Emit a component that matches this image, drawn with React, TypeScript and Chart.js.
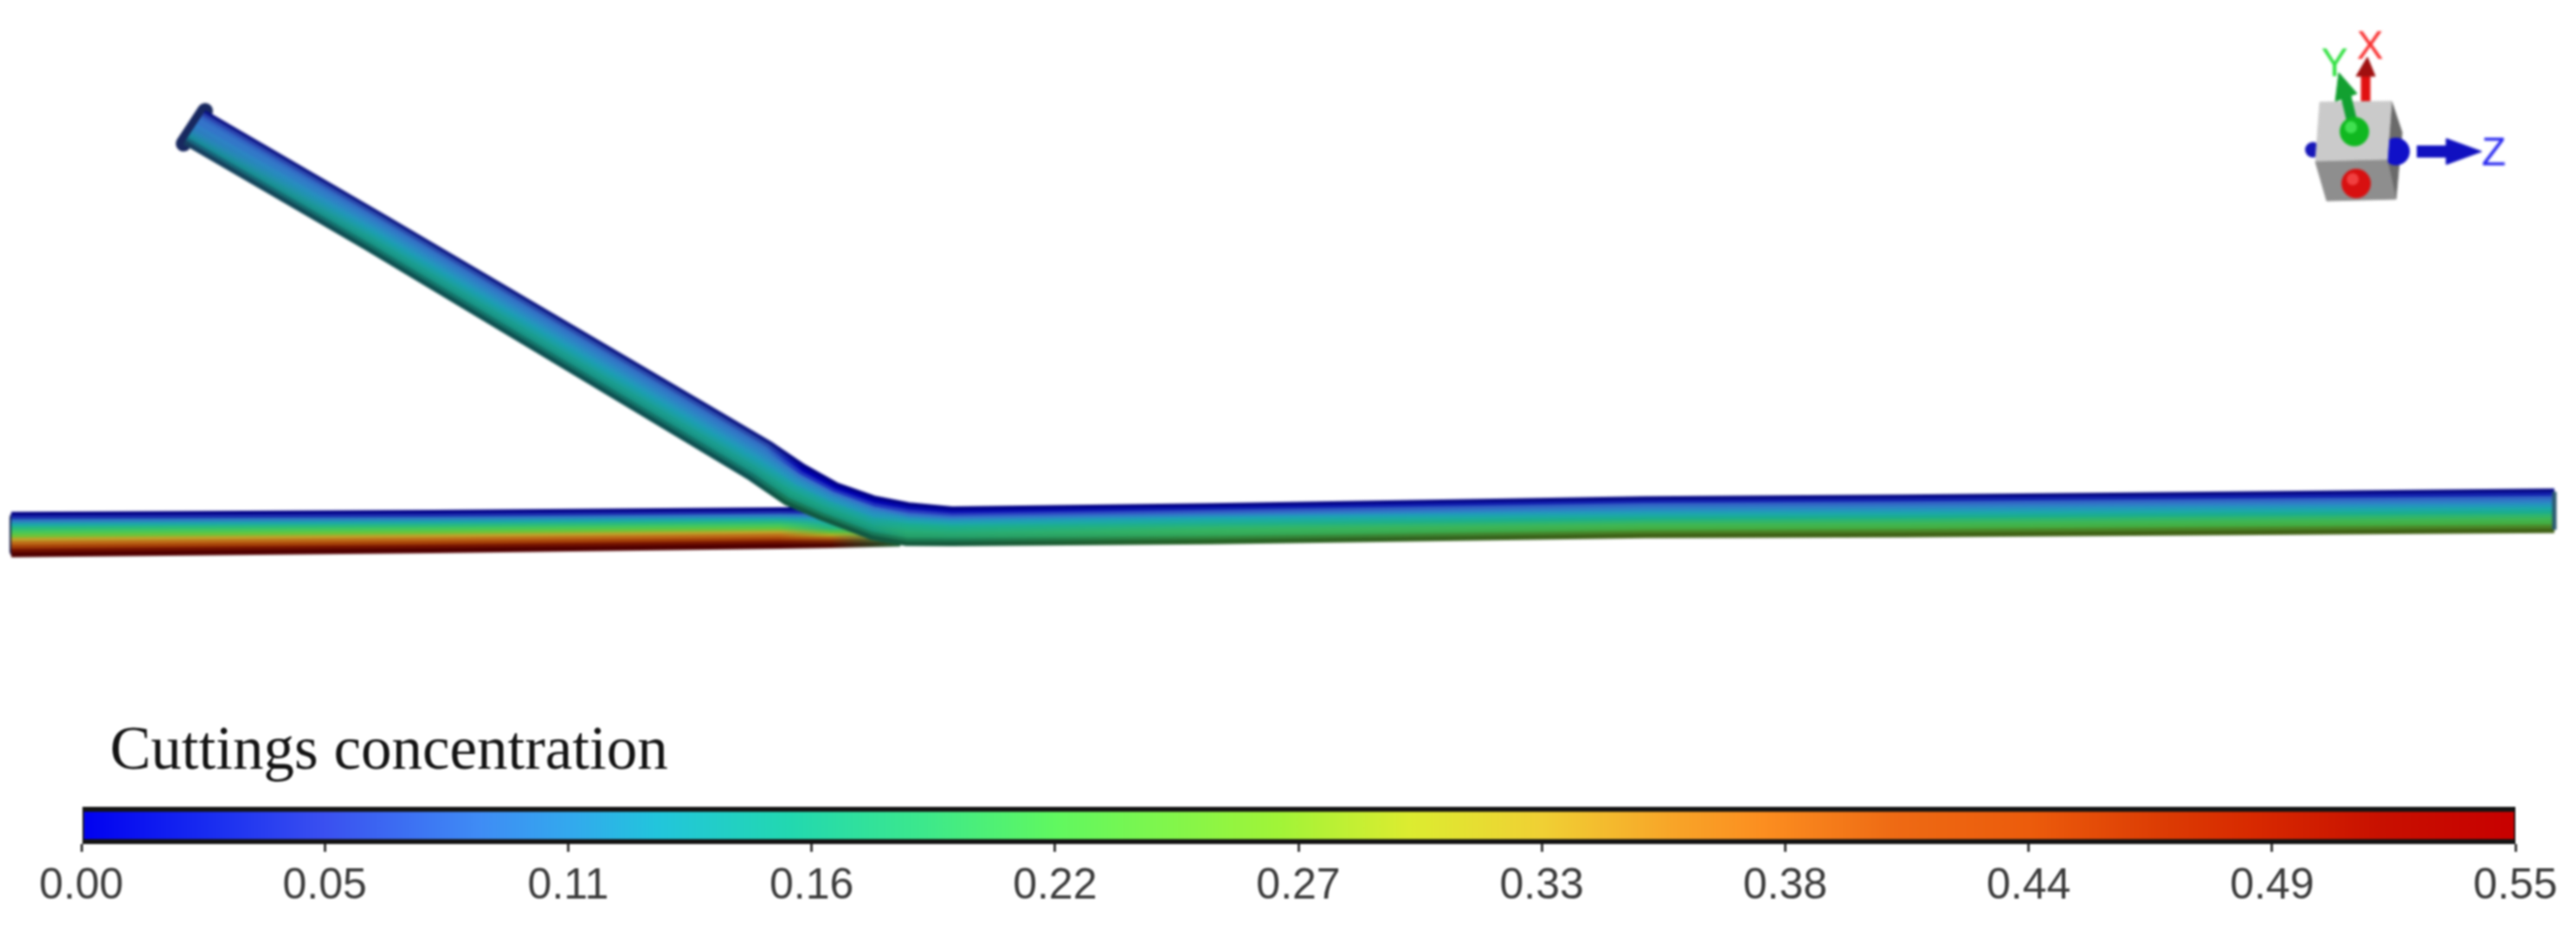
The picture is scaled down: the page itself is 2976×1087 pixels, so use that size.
import React, { useEffect, useRef } from "react";
import { Chart, registerables } from "chart.js";

Chart.register(...registerables);

const W = 2976;
const H = 1087;

// Colour bar
const titleText = "Cuttings concentration";
const tickValues = [0, 0.055, 0.11, 0.165, 0.22, 0.275, 0.33, 0.385, 0.44, 0.495, 0.55];
const tickLabels = ["0.00", "0.05", "0.11", "0.16", "0.22", "0.27", "0.33", "0.38", "0.44", "0.49", "0.55"];
const colorValues = [0, 0.03, 0.055, 0.09, 0.11, 0.13, 0.16, 0.19, 0.22, 0.27, 0.3, 0.33, 0.36, 0.38, 0.41, 0.44, 0.47, 0.49, 0.52, 0.55];
const colorHexes = ["#0000f0", "#1a2ef0", "#3a50f0", "#3f8cf5", "#33a8ee", "#22c5dc", "#22d8b0", "#3ce88c", "#60f860", "#a0f438", "#dcec30", "#f0d034", "#f8a428", "#fc8e20", "#ee6a14", "#ec5c0c", "#dc3c04", "#d82a00", "#c81000", "#c80000"];

// Main pipe (inclined leg + bend + right leg): edge points of each cross-section
const mainTopX = [237, 447, 890, 930, 967, 1010, 1050, 1100, 1400, 1900, 2200, 2951];
const mainTopY = [128, 250, 510, 537, 558, 573, 581, 586, 582, 574, 572, 565];
const mainBottomX = [212, 422, 865, 907, 947, 1007, 1047, 1100, 1400, 1900, 2200, 2951];
const mainBottomY = [166, 288, 554, 583, 600, 623, 630, 630, 628, 621, 620, 615];

// Left leg
const leftX = [13, 500, 900, 960, 1040];
const leftTopY = [592, 590, 587, 587, 586];
const leftBottomY = [643, 638, 633, 632, 630];

// Concentration across the pipe wall, top edge to bottom edge
const inclinedEnd = [0.02, 0.06, 0.08, 0.09, 0.09, 0.1, 0.1, 0.11, 0.12, 0.13, 0.12, 0.1];
const inclinedMid = [0.03, 0.07, 0.09, 0.1, 0.11, 0.12, 0.13, 0.14, 0.15, 0.15, 0.15, 0.14];
const bendWall = [0, 0, 0.04, 0.09, 0.11, 0.12, 0.14, 0.15, 0.16, 0.16, 0.17, 0.17];
const rightNear = [0, 0.01, 0.05, 0.09, 0.12, 0.14, 0.16, 0.17, 0.18, 0.18, 0.18, 0.18];
const rightMid = [0, 0.02, 0.07, 0.1, 0.13, 0.15, 0.17, 0.19, 0.2, 0.2, 0.21, 0.22];
const rightFar = [0.01, 0.03, 0.08, 0.1, 0.12, 0.14, 0.16, 0.19, 0.21, 0.22, 0.25, 0.27];
const leftFull = [0, 0.04, 0.1, 0.14, 0.18, 0.21, 0.25, 0.33, 0.38, 0.44, 0.5, 0.55];
const leftFade = [0, 0.03, 0.09, 0.12, 0.14, 0.16, 0.18, 0.23, 0.3, 0.38, 0.46, 0.52];
const leftEnd = [0, 0.03, 0.09, 0.12, 0.14, 0.16, 0.17, 0.18, 0.19, 0.2, 0.2, 0.2];
const mainProfiles = [inclinedEnd, inclinedMid, inclinedMid, bendWall, bendWall, bendWall, rightNear, rightNear, rightMid, rightFar, rightFar, rightFar];
const leftProfiles = [leftFull, leftFull, leftFull, leftFade, leftEnd];
const wallShade = [0.55, 0.72, 0.8, 0.82, 0.82, 0.82, 0.8, 0.78, 0.75, 0.7, 0.55, 0.4];

// Orientation triad
const cubeTop = [[2680, 118], [2763, 117], [2758, 185], [2675, 187], [2680, 118]];
const cubeLow = [[2675, 187], [2758, 185], [2768, 230], [2688, 232], [2675, 187]];
const cubeSide = [[2763, 117], [2775, 153], [2768, 230], [2758, 185], [2763, 117]];
const zHead = [[2826, 160], [2867, 175], [2826, 190], [2826, 160]];
const zShaft = [[2792, 175], [2830, 175]];
const xHead = [[2722, 88], [2744, 88], [2735, 66], [2722, 88]];
const xShaft = [[2733, 117], [2733, 84]];
const yHead = [[2698, 117], [2723, 108], [2702, 84], [2698, 117]];
const yShaft = [[2720, 152], [2710, 110]];
const sphereLeft = { x: 2672, y: 173, r: 9, c: "#1616b8" };
const sphereRight = { x: 2768, y: 175, r: 16, c: "#1010c8" };
const sphereGreen = { x: 2720, y: 152, r: 17, c: "#10b820" };
const sphereRed = { x: 2722, y: 212, r: 17, c: "#d81010" };
const sphereGlints = [
  { x: 2716, y: 147, r: 7, c: "#40e050" },
  { x: 2718, y: 207, r: 7, c: "#f04040" },
];
const triadLetters = [
  { t: "X", x: 2738, y: 55, c: "#f83030" },
  { t: "Y", x: 2697, y: 75, c: "#30e040" },
  { t: "Z", x: 2881, y: 178, c: "#2a2af0" },
];

function hexToRgb(h: string) {
  return [parseInt(h.slice(1, 3), 16), parseInt(h.slice(3, 5), 16), parseInt(h.slice(5, 7), 16)];
}

function colormap(v: number, shade: number) {
  let i = 0;
  while (i < colorValues.length - 2 && v > colorValues[i + 1]) i++;
  const t = Math.min(1, Math.max(0, (v - colorValues[i]) / (colorValues[i + 1] - colorValues[i])));
  const a = hexToRgb(colorHexes[i]);
  const b = hexToRgb(colorHexes[i + 1]);
  const rgb = a.map((c, k) => Math.round((c + (b[k] - c) * t) * shade));
  return `rgb(${rgb[0]},${rgb[1]},${rgb[2]})`;
}

function pipeBands(topX: number[], topY: number[], botX: number[], botY: number[], profiles: number[][], width: number) {
  return wallShade.map((shade, b) => {
    const t = (b + 0.5) / wallShade.length;
    const data = topX.map((x, i) => ({ x: x + (botX[i] - x) * t, y: topY[i] + (botY[i] - topY[i]) * t }));
    return {
      data,
      borderWidth: width,
      borderColor: (ctx: any) => {
        const sx = ctx.chart.scales.x;
        const fallback = colormap(profiles[0][b], shade);
        if (!sx) return fallback;
        const x0 = sx.getPixelForValue(0);
        const x1 = sx.getPixelForValue(W);
        if (!Number.isFinite(x0) || !Number.isFinite(x1)) return fallback;
        const g = ctx.chart.ctx.createLinearGradient(x0, 0, x1, 0);
        data.forEach((p, i) => g.addColorStop(p.x / W, colormap(profiles[i][b], shade)));
        return g;
      },
      borderCapStyle: "butt",
      borderJoinStyle: "round",
      pointRadius: 0,
      tension: 0,
      fill: false,
    };
  });
}

const pts = (a: number[][]) => a.map(([x, y]) => ({ x, y }));
const poly = (a: number[][], c: string) => ({ data: pts(a), borderWidth: 1, borderColor: c, backgroundColor: c, fill: "shape", pointRadius: 0, tension: 0 });
const seg = (a: number[][], c: string, w: number, cap = "butt") => ({ data: pts(a), borderWidth: w, borderColor: c, borderCapStyle: cap, pointRadius: 0, tension: 0, fill: false });
const dot = (s: { x: number; y: number; r: number; c: string }) => ({ data: [{ x: s.x, y: s.y }], showLine: false, pointRadius: s.r, pointBackgroundColor: s.c, pointBorderWidth: 0 });

const lettersPlugin = {
  id: "triadLetters",
  afterDatasetsDraw(chart: any) {
    const { ctx, scales } = chart;
    ctx.save();
    ctx.font = '46px "Liberation Sans"';
    ctx.textAlign = "center";
    ctx.textBaseline = "middle";
    triadLetters.forEach((l) => {
      ctx.fillStyle = l.c;
      ctx.fillText(l.t, scales.x.getPixelForValue(l.x), scales.y.getPixelForValue(l.y));
    });
    ctx.restore();
  },
};

const titlePlugin = {
  id: "barTitle",
  afterDraw(chart: any) {
    const { ctx } = chart;
    ctx.save();
    ctx.font = '71px "Liberation Serif"';
    ctx.fillStyle = "#141414";
    ctx.textAlign = "left";
    ctx.textBaseline = "alphabetic";
    ctx.fillText(titleText, 127, 888);
    ctx.restore();
  },
};

export default function App() {
  const pipeRef = useRef<HTMLCanvasElement>(null);
  const barRef = useRef<HTMLCanvasElement>(null);

  useEffect(() => {
    const last = mainTopX.length - 1;
    // listed back to front; Chart.js paints the first dataset last, so reverse below
    const backToFront: any[] = [
      seg([[leftX[0] + 4, leftTopY[0] + 6], [leftX[0] + 4, leftBottomY[0] - 6]], "#141e50", 12, "round"),
      ...pipeBands(leftX, leftTopY, leftX, leftBottomY, leftProfiles, 6),
      seg([[mainTopX[0], mainTopY[0]], [mainBottomX[0], mainBottomY[0]]], "#18285f", 18, "round"),
      ...pipeBands(mainTopX, mainTopY, mainBottomX, mainBottomY, mainProfiles, 5.5),
      seg([[mainTopX[last], mainTopY[last] + 3], [mainBottomX[last], mainBottomY[last] - 3]], "#2a5a70", 5),
      seg(xShaft, "#e01010", 11),
      poly(xHead, "#a01010"),
      dot(sphereLeft),
      poly(cubeSide, "#6a6a6a"),
      dot(sphereRight),
      poly(cubeTop, "#cacaca"),
      poly(cubeLow, "#8e8e8e"),
      seg(yShaft, "#10a030", 12),
      poly(yHead, "#12a030"),
      seg(zShaft, "#1010c0", 14),
      poly(zHead, "#1010c0"),
      dot(sphereGreen),
      dot(sphereRed),
      ...sphereGlints.map(dot),
    ];
    const pipeChart = new Chart(pipeRef.current as HTMLCanvasElement, {
      type: "line",
      data: { datasets: backToFront.slice().reverse() },
      plugins: [lettersPlugin],
      options: {
        animation: false,
        responsive: false,
        layout: { padding: 0, autoPadding: false },
        plugins: { legend: { display: false }, title: { display: false }, tooltip: { enabled: false } },
        scales: {
          x: { type: "linear", display: false, min: 0, max: W },
          y: { type: "linear", display: false, min: 0, max: H, reverse: true },
        },
      },
    } as any);

    const barChart = new Chart(barRef.current as HTMLCanvasElement, {
      type: "bar",
      data: {
        labels: [titleText],
        datasets: [
          {
            data: [[tickValues[0], tickValues[tickValues.length - 1]]],
            categoryPercentage: 1,
            barPercentage: 1,
            borderSkipped: false,
            borderWidth: { top: 6, bottom: 6, left: 2, right: 2 },
            borderColor: "#141414",
            backgroundColor: (ctx: any) => {
              const x = ctx.chart.scales.x;
              if (!x) return colorHexes[0];
              const x0 = x.getPixelForValue(0);
              const x1 = x.getPixelForValue(0.55);
              if (!Number.isFinite(x0) || !Number.isFinite(x1)) return colorHexes[0];
              const g = ctx.chart.ctx.createLinearGradient(x0, 0, x1, 0);
              colorValues.forEach((v, i) => g.addColorStop(v / 0.55, colorHexes[i]));
              return g;
            },
          },
        ],
      },
      plugins: [titlePlugin],
      options: {
        animation: false,
        responsive: false,
        indexAxis: "y",
        layout: { padding: { left: 94, right: 70, top: 932, bottom: 0 } },
        plugins: { legend: { display: false }, title: { display: false }, tooltip: { enabled: false } },
        scales: {
          y: { display: false },
          x: {
            type: "linear",
            min: 0,
            max: 0.55,
            position: "bottom",
            afterFit: (s: any) => {
              s.height = 112;
            },
            afterBuildTicks: (s: any) => {
              s.ticks = tickValues.map((value) => ({ value }));
            },
            border: { display: false },
            grid: { display: true, drawOnChartArea: false, drawTicks: true, tickLength: 9, color: "#3a3a3a", lineWidth: 3 },
            ticks: {
              autoSkip: false,
              maxRotation: 0,
              padding: 10,
              color: "#3c3c3c",
              font: { family: '"Liberation Sans"', size: 50 },
              callback: (_v: any, i: number) => tickLabels[i],
            },
          },
        },
      },
    } as any);

    return () => {
      pipeChart.destroy();
      barChart.destroy();
    };
  }, []);

  const canvasStyle = (blur: number): React.CSSProperties => ({ position: "absolute", left: 0, top: 0, width: W, height: H, filter: `blur(${blur}px)` });

  return (
    <div style={{ position: "absolute", left: 0, top: 0, width: W, height: H, overflow: "hidden", background: "#fff" }}>
      <canvas ref={pipeRef} width={W} height={H} style={canvasStyle(1.4)} />
      <canvas ref={barRef} width={W} height={H} style={canvasStyle(1)} />
    </div>
  );
}
